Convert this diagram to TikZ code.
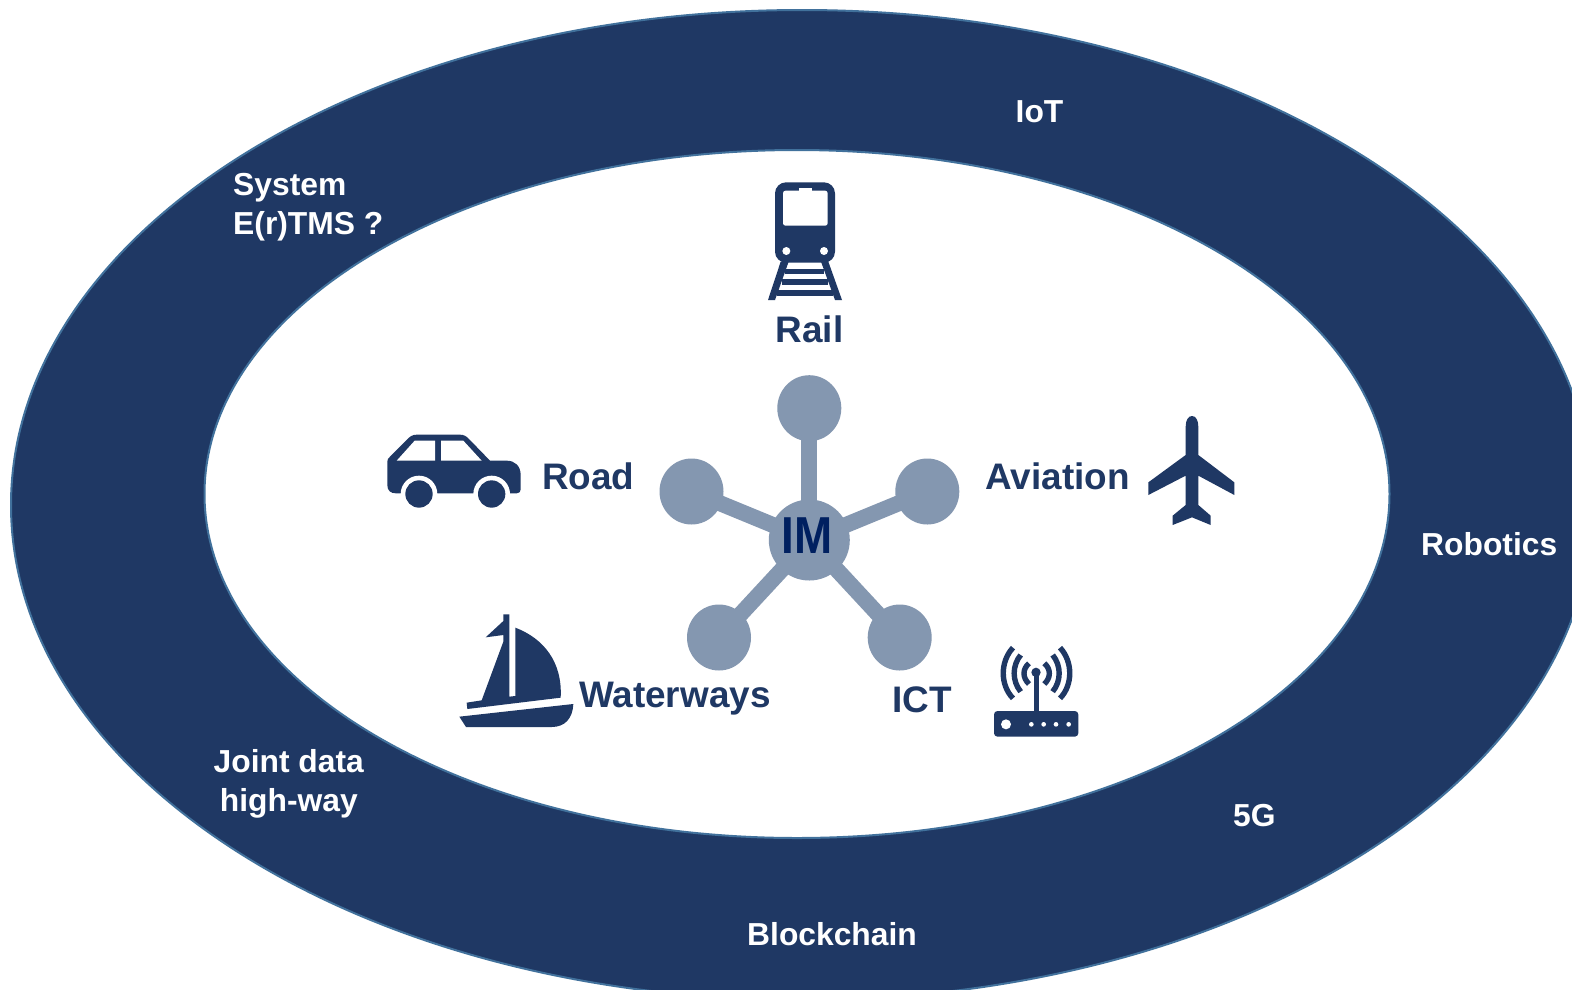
\documentclass[tikz,border=0pt]{standalone}
\usepackage{fontspec}
\usepackage{graphicx}
\setmainfont{Liberation Sans}
\usetikzlibrary{shapes.geometric}
\definecolor{navy}{HTML}{1F3864}
\definecolor{rim}{HTML}{41719C}
\definecolor{hubc}{HTML}{8497B0}
\definecolor{imc}{HTML}{002060}
\tikzset{
  ringlab/.style={text=white,font=\fontsize{31.8}{38.5}\selectfont\bfseries,inner sep=0pt,anchor=base west},
  modelab/.style={text=navy,font=\fontsize{36.9}{40}\selectfont\bfseries,inner sep=0pt,anchor=base west},
  sat/.style={ellipse,fill=hubc,minimum width=64pt,minimum height=66pt,inner sep=0pt},
  spoke/.style={draw=hubc,line width=16pt},
  icon/.style={shift={#1},scale=1/3},
  wave/.style={draw=navy,line width=5.4pt}
}
\begin{document}
\begin{tikzpicture}[x=1pt,y=-1pt]
\useasboundingbox (0,0) rectangle (1572,989);
\fill[white] (0,0) rectangle (1572,989);
\begin{scope}
\clip (0,0) rectangle (1572,989);
\node[ellipse,draw=rim,line width=2pt,fill=navy,minimum width=1582pt,minimum height=990pt,inner sep=0pt] (outer) at (802,505) {};
\node[ellipse,draw=rim,line width=2pt,fill=white,minimum width=1185pt,minimum height=688pt,inner sep=0pt] (inner) at (797,494) {};
\end{scope}

% hub
\node[circle,fill=hubc,minimum size=81pt,inner sep=0pt] (hub) at (809.3,540) {};
\node[sat] (s1) at (809.3,408.2) {};
\node[sat] (s2) at (691.5,491.5) {};
\node[sat] (s3) at (927.3,491.5) {};
\node[sat] (s4) at (719,637.5) {};
\node[sat] (s5) at (899.7,637.5) {};
\draw[spoke] (hub.center) -- (s1.center);
\draw[spoke] (hub.center) -- (s2.center);
\draw[spoke] (hub.center) -- (s3.center);
\draw[spoke] (hub.center) -- (s4.center);
\draw[spoke] (hub.center) -- (s5.center);
\node[text=imc,inner sep=0pt,font=\fontsize{52}{52}\selectfont\bfseries] (imlab) at (806.7,535.5) {\scalebox{.88}[1]{IM}};

% train
\begin{scope}[icon={(740,170)}]
\fill[navy,rounded corners=11pt]
  (105,37) rectangle (285,278);
\fill[white,rounded corners=2.5pt] (129,167) -- (129,62) -- (263,62) -- (263,167) -- cycle;
\fill[white] (177,55) rectangle (216,65);
\fill[white] (139,243) circle (12) (252,243) circle (12);
\fill[navy] (122,275) -- (146,275) -- (105,390) -- (84,390) -- cycle;
\fill[navy] (243,275) -- (265,275) -- (306,390) -- (285,390) -- cycle;
\fill[navy] (136,296) rectangle (252,313);
\fill[navy] (126,328) rectangle (264,345);
\fill[navy] (112,361) rectangle (278,378);
\end{scope}

% car
\begin{scope}[icon={(370,420)}]
\fill[navy] (52,125) -- (52,195) .. controls (52,212) and (62,220) .. (78,220) -- (420,220) -- (440,220) .. controls (448,220) and (452,215) .. (452,208) -- (452,165) .. controls (452,138) and (435,122) .. (410,122) -- (360,122) -- (298,58) .. controls (290,49) and (282,44) .. (270,44) -- (140,44) .. controls (128,44) and (120,49) .. (112,58) -- (60,110) .. controls (54,116) and (52,118) .. (52,125) -- cycle;
\fill[white] (80,122) -- (134,62) -- (195,62) -- (195,122) -- cycle;
\fill[white] (213,62) -- (280,62) -- (335,122) -- (213,122) -- cycle;
\fill[white] (147,222) circle (55) (365,222) circle (55);
\fill[white] (80,222) rectangle (214,240) (298,222) rectangle (432,240);
\fill[navy] (147,222) circle (41) (365,222) circle (41);
\end{scope}

% plane
\begin{scope}[icon={(1130,405)}]
\fill[navy] (186,33) .. controls (175,33) and (167,45) .. (167,65) -- (167,150) -- (55,232) -- (55,270) -- (167,212) -- (167,300) -- (128,332) -- (128,360) -- (186,337) -- (242,360) -- (242,332) -- (205,300) -- (205,212) -- (313,270) -- (313,232) -- (205,150) -- (205,65) .. controls (205,45) and (197,33) .. (186,33) -- cycle;
\end{scope}

% boat
\begin{scope}[icon={(450,605)}]
\fill[navy] (160,28) -- (178,28) -- (178,275) -- (196,273) -- (196,68) .. controls (280,100) and (338,170) .. (332,278) -- (52,312) -- (50,293) -- (95,286) -- (160,110) -- (160,90) -- (107,97) -- (160,48) -- cycle;
\fill[navy] (28,335) -- (370,297) .. controls (368,340) and (345,366) .. (305,366) -- (48,366) -- cycle;
\end{scope}

% router
\begin{scope}[icon={(980,635)}]
\fill[navy,rounded corners=3.5pt] (42,228) rectangle (295,305);
\fill[white] (78,268) circle (15);
\fill[white] (154,268) circle (7) (191,268) circle (7) (228,268) circle (7) (266,268) circle (7);
\fill[navy] (161,112) rectangle (176,230);
\fill[navy] (168,112) circle (14);
\draw[wave] (147,85) .. controls (127,102) and (127,128) .. (147,147);
\draw[wave] (122,60) .. controls (96,92) and (96,138) .. (122,170);
\draw[wave] (99,38) .. controls (60,80) and (60,150) .. (99,190);
\draw[wave] (193,85) .. controls (213,102) and (213,128) .. (193,147);
\draw[wave] (218,60) .. controls (244,92) and (244,138) .. (218,170);
\draw[wave] (240,38) .. controls (279,80) and (279,150) .. (240,190);
\end{scope}

% labels
\node[ringlab] (t1) at (1015.5,122.5) {IoT};
\node[ringlab] (t2) at (233,195.5) {System};
\node[ringlab] (t3) at (233,234) {E(r)TMS ?};
\node[ringlab] (t4) at (1421,555) {Robotics};
\node[ringlab,anchor=base] (t5) at (288.8,772) {Joint data};
\node[ringlab,anchor=base] (t6) at (288.8,811) {high-way};
\node[ringlab] (t7) at (1233,826) {5G};
\node[ringlab] (t8) at (747,945) {Blockchain};
\node[modelab] (m1) at (775.5,342) {Rail};
\node[modelab] (m2) at (542,489.5) {Road};
\node[modelab] (m3) at (985.5,489.5) {Aviation};
\node[modelab] (m4) at (579,707.5) {Waterways};
\node[modelab] (m5) at (892,712) {ICT};
\end{tikzpicture}
\end{document}
